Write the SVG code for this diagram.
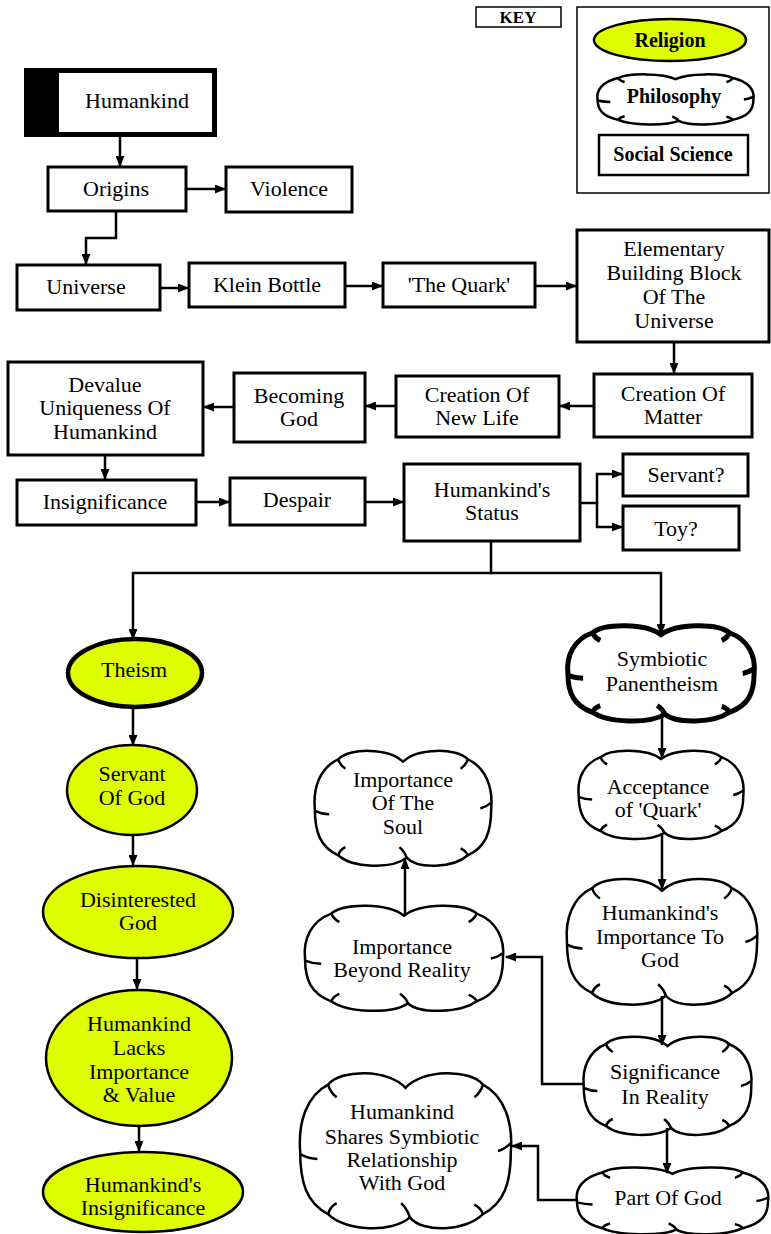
<svg xmlns="http://www.w3.org/2000/svg" xmlns:xlink="http://www.w3.org/1999/xlink" width="771" height="1234" viewBox="0 0 771 1234">
<style>
.box{fill:#fff;stroke:#000;stroke-width:3}
.rel{fill:#dfff00;stroke:#000;stroke-width:2.5}
.t{font-family:"Liberation Serif","Times New Roman",serif;font-size:22px;fill:#000;text-anchor:middle;dominant-baseline:central}
.k{font-family:"Liberation Serif","Times New Roman",serif;font-size:20px;font-weight:bold;fill:#000;text-anchor:middle;dominant-baseline:central}
.c{fill:none;stroke:#000;stroke-width:2.5;marker-end:url(#ah)}
.cl{fill:#fff;stroke:#000;stroke-width:2.5}
</style>
<defs>
<marker id="ah" markerUnits="userSpaceOnUse" markerWidth="11" markerHeight="9" refX="10" refY="4.5" orient="auto">
<path d="M0,0 L11,4.5 L0,9 z" fill="#000"/>
</marker>
<g id="cloud">
<path vector-effect="non-scaling-stroke" d="M50 10 C58 -2 80 -2 86 8 C96 15 100 32 99 50 C99 70 96 83 86 90 C78 101 58 102 52 92 C44 102 22 101 14 90 C4 83 1 70 1 50 C0 32 4 15 14 8 C20 -2 42 -2 50 10 Z"/>
<path vector-effect="non-scaling-stroke" fill="none" d="M52 92 Q51 87 48 83 M1 52 Q5 55 9 55 M99 45 Q96 49 93 50 M14 8 Q15 13 18 16 M86 90 Q85 86 82 84 M14 90 Q15 85 18 83 M86 8 Q85 13 82 16"/>
</g>
</defs>

<g id="key">
<rect x="476" y="7" width="85" height="20" fill="#fff" stroke="#000" stroke-width="1.5"/>
<text class="k" x="518" y="17" style="font-size:17px">KEY</text>
<rect x="577" y="7" width="192" height="186" fill="#fff" stroke="#000" stroke-width="1.5"/>
<ellipse class="rel" cx="670" cy="40" rx="76" ry="21"/>
<text class="k" x="670" y="40">Religion</text>
<use href="#cloud" xlink:href="#cloud" class="cl" transform="translate(596,74) scale(1.59,0.51)"/>
<text class="k" x="674" y="96">Philosophy</text>
<rect x="599" y="135" width="149" height="40" class="box" style="stroke-width:2.5"/>
<text class="k" x="673" y="154">Social Science</text>
</g>

<g id="humankind">
<rect x="24" y="68" width="193" height="69" fill="#000"/>
<rect x="59" y="73" width="153" height="59" fill="#fff"/>
<text class="t" x="137" y="100">Humankind</text>
</g>
<g id="origins"><rect class="box" x="48" y="167" width="138" height="44"/><text class="t" x="116" y="188">Origins</text></g>
<g id="violence"><rect class="box" x="226" y="167" width="126" height="45"/><text class="t" x="289" y="188">Violence</text></g>
<g id="universe"><rect class="box" x="17" y="265" width="143" height="45"/><text class="t" x="86" y="286">Universe</text></g>
<g id="klein"><rect class="box" x="189" y="263" width="156" height="44"/><text class="t" x="267" y="284">Klein Bottle</text></g>
<g id="quark"><rect class="box" x="383" y="263" width="152" height="44"/><text class="t" x="459" y="284">'The Quark'</text></g>
<g id="elementary"><rect class="box" x="577" y="230" width="192" height="112"/>
<text class="t" x="674" y="248">Elementary</text><text class="t" x="674" y="272">Building Block</text><text class="t" x="674" y="296">Of The</text><text class="t" x="674" y="320">Universe</text></g>
<g id="matter"><rect class="box" x="594" y="374" width="158" height="63"/><text class="t" x="673" y="393">Creation Of</text><text class="t" x="673" y="416">Matter</text></g>
<g id="newlife"><rect class="box" x="396" y="376" width="163" height="61"/><text class="t" x="477" y="394">Creation Of</text><text class="t" x="477" y="417">New Life</text></g>
<g id="becoming"><rect class="box" x="234" y="373" width="131" height="69"/><text class="t" x="299" y="395">Becoming</text><text class="t" x="299" y="418">God</text></g>
<g id="devalue"><rect class="box" x="8" y="362" width="195" height="93"/><text class="t" x="105" y="384">Devalue</text><text class="t" x="105" y="407">Uniqueness Of</text><text class="t" x="105" y="431">Humankind</text></g>
<g id="insignificance"><rect class="box" x="17" y="480" width="179" height="45"/><text class="t" x="105" y="501">Insignificance</text></g>
<g id="despair"><rect class="box" x="230" y="478" width="135" height="47"/><text class="t" x="297" y="499">Despair</text></g>
<g id="status"><rect class="box" x="404" y="464" width="176" height="77"/><text class="t" x="492" y="489">Humankind's</text><text class="t" x="492" y="512">Status</text></g>
<g id="servantq"><rect class="box" x="623" y="454" width="125" height="42"/><text class="t" x="686" y="474">Servant?</text></g>
<g id="toyq"><rect class="box" x="623" y="506" width="116" height="44"/><text class="t" x="676" y="528">Toy?</text></g>

<g id="theism"><ellipse class="rel" cx="135" cy="673" rx="67" ry="34" style="stroke-width:4.5"/><text class="t" x="134" y="669">Theism</text></g>
<g id="servantofgod"><ellipse class="rel" cx="132" cy="790" rx="65" ry="45"/><text class="t" x="132" y="773">Servant</text><text class="t" x="132" y="797">Of God</text></g>
<g id="disinterested"><ellipse class="rel" cx="138" cy="912" rx="95" ry="46"/><text class="t" x="138" y="899">Disinterested</text><text class="t" x="138" y="922">God</text></g>
<g id="lacks"><ellipse class="rel" cx="139" cy="1058" rx="93" ry="68"/><text class="t" x="139" y="1023">Humankind</text><text class="t" x="139" y="1047">Lacks</text><text class="t" x="139" y="1071">Importance</text><text class="t" x="139" y="1094">&amp; Value</text></g>
<g id="hinsignificance"><ellipse class="rel" cx="143" cy="1192" rx="100" ry="40"/><text class="t" x="143" y="1184">Humankind's</text><text class="t" x="143" y="1207">Insignificance</text></g>

<g id="symbiotic"><use href="#cloud" xlink:href="#cloud" class="cl" style="stroke-width:5" transform="translate(566,625) scale(1.90,0.97)"/><text class="t" x="662" y="658">Symbiotic</text><text class="t" x="662" y="683">Panentheism</text></g>
<g id="acceptance"><use href="#cloud" xlink:href="#cloud" class="cl" transform="translate(577,750) scale(1.68,0.90)"/><text class="t" x="658" y="786">Acceptance</text><text class="t" x="658" y="809">of 'Quark'</text></g>
<g id="soul"><use href="#cloud" xlink:href="#cloud" class="cl" transform="translate(313,750) scale(1.80,1.17)"/><text class="t" x="403" y="779">Importance</text><text class="t" x="403" y="802">Of The</text><text class="t" x="403" y="826">Soul</text></g>
<g id="imptogod"><use href="#cloud" xlink:href="#cloud" class="cl" transform="translate(565,878) scale(1.94,1.28)"/><text class="t" x="660" y="912">Humankind's</text><text class="t" x="660" y="936">Importance To</text><text class="t" x="660" y="959">God</text></g>
<g id="beyond"><use href="#cloud" xlink:href="#cloud" class="cl" transform="translate(303,905) scale(2.02,1.07)"/><text class="t" x="402" y="946">Importance</text><text class="t" x="402" y="969">Beyond Reality</text></g>
<g id="significance"><use href="#cloud" xlink:href="#cloud" class="cl" transform="translate(582,1036) scale(1.71,1.0)"/><text class="t" x="665" y="1071">Significance</text><text class="t" x="665" y="1096">In Reality</text></g>
<g id="shares"><use href="#cloud" xlink:href="#cloud" class="cl" transform="translate(298,1072) scale(2.15,1.58)"/><text class="t" x="402" y="1111">Humankind</text><text class="t" x="402" y="1136">Shares Symbiotic</text><text class="t" x="402" y="1159">Relationship</text><text class="t" x="402" y="1182">With God</text></g>
<g id="partofgod"><use href="#cloud" xlink:href="#cloud" class="cl" transform="translate(575,1167) scale(1.95,0.68)"/><text class="t" x="668" y="1197">Part Of God</text></g>

<g id="connectors">
<path class="c" d="M120 137 V166"/>
<path class="c" d="M186 189 H225"/>
<path class="c" d="M116 211 V238 H86 V264"/>
<path class="c" d="M160 288 H188"/>
<path class="c" d="M345 286 H382"/>
<path class="c" d="M535 286 H576"/>
<path class="c" d="M674 342 V373"/>
<path class="c" d="M594 406 H560"/>
<path class="c" d="M396 406 H366"/>
<path class="c" d="M234 407 H204"/>
<path class="c" d="M105 455 V479"/>
<path class="c" d="M196 502 H229"/>
<path class="c" d="M365 502 H403"/>
<path class="c" d="M580 503 H597 V474 H622"/>
<path class="c" d="M597 503 V527 H622"/>
<path class="c" d="M491 541 V573 H133 V639"/>
<path class="c" d="M491 573 H661 V634"/>
<path class="c" d="M662 715 V758"/>
<path class="c" d="M662 833 V889"/>
<path class="c" d="M662 996 V1045"/>
<path class="c" d="M667 1128 V1173"/>
<path class="c" d="M584 1084 H542 V957 H506"/>
<path class="c" d="M405 915 V859"/>
<path class="c" d="M577 1200 H538 V1146 H512"/>
<path class="c" d="M133 707 V745"/>
<path class="c" d="M133 835 V865"/>
<path class="c" d="M137 958 V989"/>
<path class="c" d="M139 1126 V1151"/>
</g>
</svg>
